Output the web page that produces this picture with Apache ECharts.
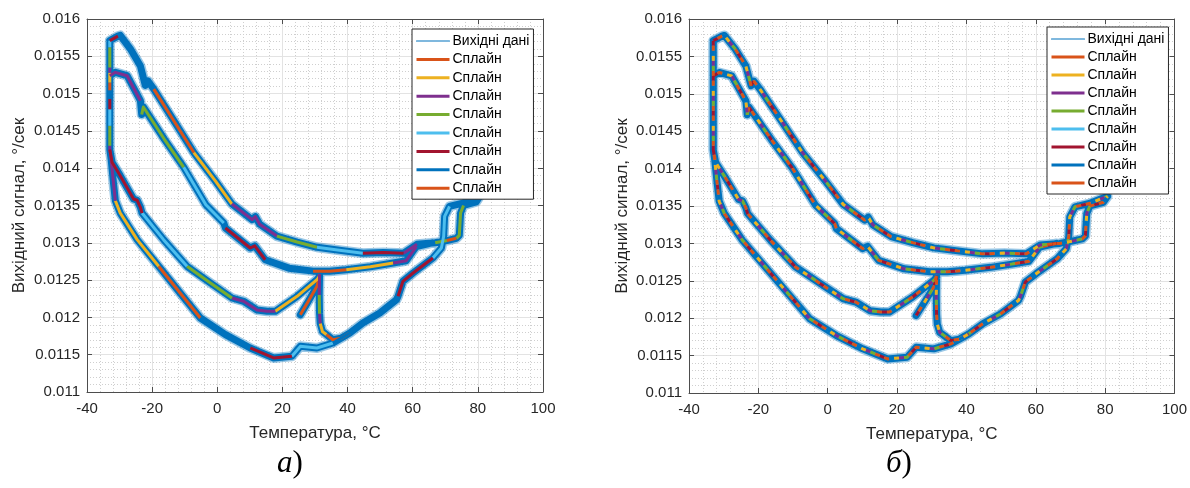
<!DOCTYPE html>
<html><head><meta charset="utf-8">
<script src="https://cdn.jsdelivr.net/npm/echarts@6/dist/echarts.min.js"></script>
<style>html,body{margin:0;padding:0;background:#fff}#c{width:1190px;height:488px}</style>
</head><body><div id="c"></div>
<script>
// ---------- data ----------
const xMin = -40, xMax = 100, xStep = 20;
const yMin = 0.011, yMax = 0.016, yStep = 0.0005;
const legendNames = ['Вихідні дані','Сплайн 1','Сплайн 2','Сплайн 3','Сплайн 4','Сплайн 5','Сплайн 6','Сплайн 7','Сплайн 8'];
const splineColors = ['#D95319','#EDB120','#7E2F8E','#77AC30','#4DBEEE','#A2142F','#0072BD','#D95319'];
const panelLabels = ['а', 'б'];

// vertical jump at the cold end (-33 °C)
const branchV = [[-33,0.01571],[-33,0.01562],[-33,0.01553],[-33,0.01535],[-33,0.01528],[-33,0.01515],[-33,0.01504],[-33,0.01493],[-33,0.01479],[-33,0.01457],[-33,0.01430],[-33,0.01425]];
const splineV = [4,3,3,2,1,0,6,5,4,3,2];
// outer upper branch
const branchA = [[-33,0.01571],[-30.5,0.01577],[-29.8,0.01578],[-26.7,0.01560],[-23.6,0.01537],[-22.1,0.01511],[-21.3,0.01517],[-19.5,0.01506],[-13.4,0.01464],[-7.2,0.01421],[-0.6,0.01383],[4.5,0.01352],[10.7,0.01331],[11.7,0.01335],[13,0.01325],[18.3,0.01309],[24.5,0.01301],[30.6,0.01294],[37.5,0.01290],[44.7,0.01286],[51,0.01287],[57.2,0.01286],[61.3,0.01298],[66.9,0.01300],[70.5,0.01303],[73.4,0.01306],[74.3,0.01310],[74.7,0.01340],[75.6,0.01350],[79.5,0.01355],[80.7,0.01363]];
const splineA = [5,-1,-1,-1,-1,-1,-1,0,0,1,1,2,2,2,2,3,3,4,4,5,5,2,-1,3,7,3,3,3,-1,-1];
// inner upper branch
const branchB = [[-33,0.01524],[-31.3,0.015285],[-27.7,0.01524],[-23.6,0.014905],[-23.2,0.01472],[-22.7,0.01482],[-16.3,0.014391],[-10.3,0.014012],[-3.5,0.01351],[2.0,0.013265],[2.5,0.013198],[10.1,0.01293],[11.5,0.01296],[14.7,0.012773],[22,0.01266],[29.4,0.01262],[34.5,0.01262],[39.6,0.01264],[47,0.01268],[54,0.01273],[58,0.01276],[61.1,0.01295],[66,0.01300]];
const splineB = [2,2,2,-1,3,3,3,4,4,-1,5,5,5,-1,-1,0,0,1,1,2,2,-1];
// inner lower branch
const branchC = [[-33,0.01425],[-32.3,0.01408],[-29.8,0.0139],[-25.7,0.013587],[-24.6,0.01357],[-23.6,0.013476],[-23.1,0.013399],[-16.5,0.013042],[-9.3,0.012685],[-2.1,0.012461],[4.5,0.01226],[8.1,0.012216],[12.2,0.0121],[15.3,0.012082],[17.8,0.012082],[24.5,0.012283],[30.6,0.012506],[31.4,0.01255]];
const splineC = [5,5,5,5,5,5,4,4,3,3,2,2,2,2,1,1,1];
// outer lower branch
const branchD = [[-33,0.01425],[-32.6,0.014123],[-32.0,0.013855],[-31.3,0.013564],[-29.8,0.013399],[-24.6,0.013042],[-18.0,0.012685],[-11.4,0.012327],[-5.2,0.011992],[2.5,0.011768],[10.1,0.01159],[17.3,0.011456],[22.9,0.011478],[25.5,0.011612],[30.6,0.01159],[35.5,0.011657],[40.7,0.011791],[44.7,0.011925],[49.9,0.012059],[55.0,0.012237],[55.5,0.012283],[57.0,0.012484],[60.1,0.012595],[66.2,0.012796],[68.8,0.01293],[69.5,0.013087],[69.8,0.013355],[71.3,0.013489],[75.4,0.013533],[80.7,0.01363]];
const splineD = [2,2,2,1,1,1,0,0,6,6,5,5,4,4,4,6,6,6,6,-1,5,5,5,4,4,4,4,-1,-1];
// start segment at room temperature
const branchE = [[25.5,0.012036],[28,0.01222],[30.6,0.012417],[31.4,0.01258]];
const splineE = [0,0,0];
// drop at ~31 °C
const branchF = [[31.4,0.01258],[31.3,0.0123],[31.4,0.01205],[31.6,0.01192],[32.3,0.01181],[33.5,0.01177],[35.5,0.0117],[38,0.01172],[40.7,0.01179]];
const splineF = [2,3,2,1,1,0,0,0];

// ---------- build ----------
const branches = [branchV, branchA, branchB, branchC, branchD, branchE, branchF];
const splineIdx = [splineV, splineA, splineB, splineC, splineD, splineE, splineF];
const GAP = ['-','-'];
const rawAll = [];
branches.forEach(b => { if (rawAll.length) rawAll.push(GAP); b.forEach(p => rawAll.push(p)); });
function pieces(k) {
  const out = [];
  branches.forEach((b, i) => {
    const c = splineIdx[i]; let open = false;
    for (let j = 0; j < c.length; j++) {
      if (c[j] === k) {
        if (!open) { if (out.length) out.push(GAP); out.push(b[j]); open = true; }
        out.push(b[j + 1]);
      } else open = false;
    }
  });
  return out;
}

const FONT = "'Liberation Sans', Arial, sans-serif";
const AX = '#4d4d4d', TXT = '#262626';
const grids = [
  {left: 87, top: 19, width: 456, height: 373},
  {left: 689, top: 19, width: 486, height: 374}
];
const xAxes = [], yAxes = [];
grids.forEach((g, gi) => {
  const base = {gridIndex: gi, type: 'value', min: xMin, max: xMax, interval: xStep};
  xAxes.push(Object.assign({}, base, {
    position: 'bottom',
    name: 'Температура, °C', nameLocation: 'middle', nameGap: 33,
    nameTextStyle: {fontFamily: FONT, fontSize: 17, color: TXT},
    axisLine: {show: true, onZero: false, lineStyle: {color: AX, width: 1}},
    axisTick: {show: true, inside: true, length: 5, lineStyle: {color: AX}},
    axisLabel: {fontFamily: FONT, fontSize: 15, color: TXT, margin: 9},
    splitLine: {show: true, lineStyle: {color: '#e3e3e3', width: 1}},
    minorTick: {show: false, splitNumber: 5},
    minorSplitLine: {show: true, lineStyle: {color: '#cfcfcf', width: 1, type: [1, 2]}}
  }));
  xAxes.push(Object.assign({}, base, {
    position: 'top',
    axisLine: {show: true, onZero: false, lineStyle: {color: AX, width: 1}},
    axisTick: {show: true, inside: true, length: 5, lineStyle: {color: AX}},
    axisLabel: {show: false}, splitLine: {show: false}
  }));
  const ybase = {gridIndex: gi, type: 'value', min: yMin, max: yMax, interval: yStep};
  yAxes.push(Object.assign({}, ybase, {
    position: 'left',
    name: 'Вихідний сигнал, °/сек', nameLocation: 'middle', nameGap: gi === 0 ? 59 : 58,
    nameTextStyle: {fontFamily: FONT, fontSize: 17, color: TXT},
    axisLine: {show: true, onZero: false, lineStyle: {color: AX, width: 1}},
    axisTick: {show: true, inside: true, length: 5, lineStyle: {color: AX}},
    axisLabel: {fontFamily: FONT, fontSize: 15, color: TXT, margin: 7,
      formatter: v => String(parseFloat(v.toFixed(4)))},
    splitLine: {show: true, lineStyle: {color: '#e3e3e3', width: 1}},
    minorTick: {show: false, splitNumber: 5},
    minorSplitLine: {show: true, lineStyle: {color: '#cfcfcf', width: 1, type: [1, 2]}}
  }));
  yAxes.push(Object.assign({}, ybase, {
    position: 'right',
    axisLine: {show: true, onZero: false, lineStyle: {color: AX, width: 1}},
    axisTick: {show: true, inside: true, length: 5, lineStyle: {color: AX}},
    axisLabel: {show: false}, splitLine: {show: false}
  }));
});

const series = [];
function rawSeries(gi) {
  series.push({type: 'line', name: 'rawHalo', xAxisIndex: gi * 2, yAxisIndex: gi * 2, data: rawAll,
    symbol: 'none', silent: true, z: 2, connectNulls: false,
    lineStyle: {color: '#0072BD', width: 10, opacity: 0.4, cap: 'round', join: 'round'}});
  series.push({type: 'line', name: legendNames[0], xAxisIndex: gi * 2, yAxisIndex: gi * 2, data: rawAll,
    symbol: 'none', silent: true, z: 3, connectNulls: false, color: '#0072BD',
    lineStyle: {color: '#0072BD', width: 7, cap: 'round', join: 'round'}});
}
rawSeries(0);
splineColors.forEach((c, k) => {
  series.push({type: 'line', name: legendNames[k + 1], xAxisIndex: 0, yAxisIndex: 0, data: pieces(k),
    symbol: 'none', silent: true, z: 4, connectNulls: false, color: c,
    lineStyle: {color: c, width: 3, cap: 'butt', join: 'round'}});
});
rawSeries(1);
// panel б: splines drawn dashed, colours alternating along the curves
const dashOrder = [5, 0, 3, 2, 1, 6, 7];
series.push({type: 'line', name: legendNames[5], xAxisIndex: 2, yAxisIndex: 2, data: rawAll,
  symbol: 'none', silent: true, z: 4, connectNulls: false, color: splineColors[4],
  lineStyle: {color: splineColors[4], width: 2}});
dashOrder.forEach((k, i) => {
  series.push({type: 'line', name: legendNames[k + 1], xAxisIndex: 2, yAxisIndex: 2, data: rawAll,
    symbol: 'none', silent: true, z: 5, connectNulls: false, color: splineColors[k],
    lineStyle: {color: splineColors[k], width: 3, type: [5, 30], dashOffset: i * 5}});
});

function legend(left, top, gap) {
  return {
    show: true, orient: 'vertical', left: left, top: top, selectedMode: false,
    backgroundColor: '#fff', borderColor: '#262626', borderWidth: 1,
    padding: [5, 4, 4, 3], itemWidth: 33, itemHeight: 14, itemGap: gap,
    textStyle: {fontFamily: FONT, fontSize: 14, color: '#000', padding: [0, 0, 0, -2]},
    itemStyle: {opacity: 0, borderWidth: 0},
    lineStyle: {width: 3, type: 'solid'},
    formatter: n => n.replace(/\s\d+$/, ''),
    data: legendNames.map((n, i) => i === 0 ? {name: n, lineStyle: {width: 1.2, color: '#0072BD'}} : {name: n})
  };
}

const chart = echarts.init(document.getElementById('c'), null, {renderer: 'canvas'});
chart.setOption({
  backgroundColor: '#fff',
  animation: false,
  grid: grids,
  xAxis: xAxes,
  yAxis: yAxes,
  legend: [legend(412, 29, 4.4), legend(1047, 27, 4)],
  series: series,
  graphic: [
    {type: 'text', left: 277, top: 448, style: {
      text: '{i|' + panelLabels[0] + '}{n|)}',
      rich: {i: {fontFamily: "'Liberation Serif', serif", fontStyle: 'italic', fontSize: 31, fill: '#000'},
             n: {fontFamily: "'Liberation Serif', serif", fontSize: 31, fill: '#000'}}}},
    {type: 'text', left: 886, top: 448, style: {
      text: '{i|' + panelLabels[1] + '}{n|)}',
      rich: {i: {fontFamily: "'Liberation Serif', serif", fontStyle: 'italic', fontSize: 31, fill: '#000'},
             n: {fontFamily: "'Liberation Serif', serif", fontSize: 31, fill: '#000'}}}}
  ]
});
</script></body></html>
